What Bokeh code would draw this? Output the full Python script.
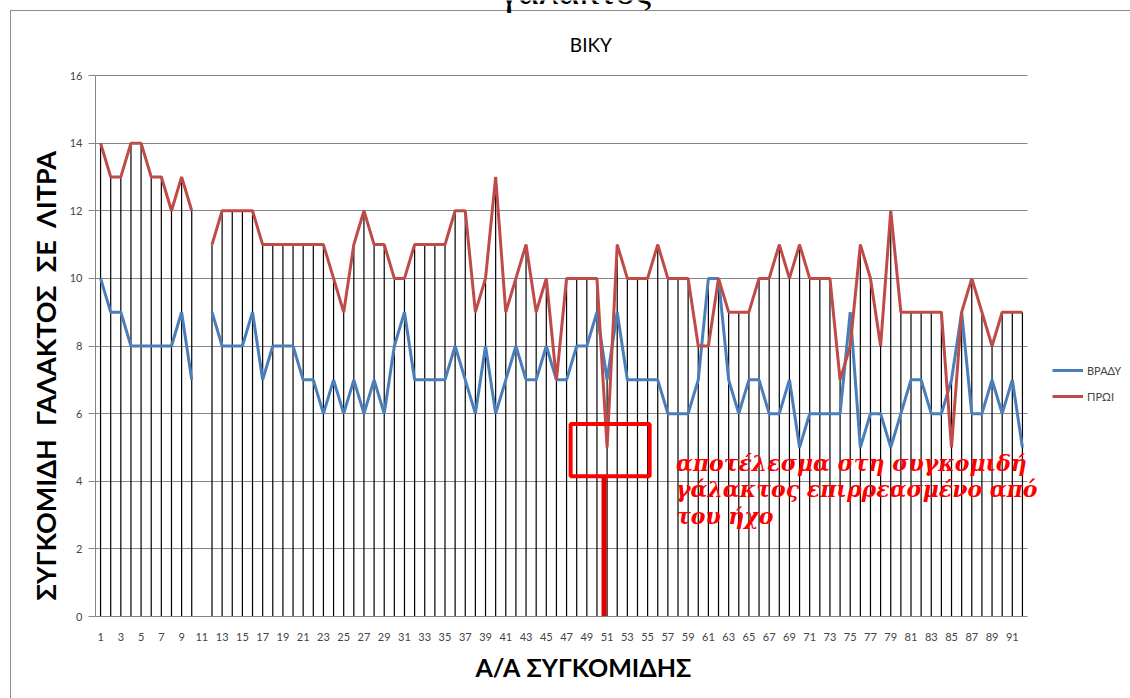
import numpy as np
from bokeh.plotting import figure
from bokeh.models import (ColumnDataSource, Label, Legend, LegendItem,
                          FixedTicker, Title)
from bokeh.embed import file_html
from bokeh.resources import INLINE

nan = float("nan")

# ---- data -------------------------------------------------------------
collections = list(range(1, 93))
evening = [10, 9, 9, 8, 8, 8, 8, 8, 9, 7, nan, 9, 8, 8, 8, 9, 7, 8, 8, 8,
           7, 7, 6, 7, 6, 7, 6, 7, 6, 8, 9, 7, 7, 7, 7, 8, 7, 6, 8, 6,
           7, 8, 7, 7, 8, 7, 7, 8, 8, 9, 7, 9, 7, 7, 7, 7, 6, 6, 6, 7,
           10, 10, 7, 6, 7, 7, 6, 6, 7, 5, 6, 6, 6, 6, 9, 5, 6, 6, 5, 6,
           7, 7, 6, 6, 7, 9, 6, 6, 7, 6, 7, 5]
morning = [14, 13, 13, 14, 14, 13, 13, 12, 13, 12, nan, 11, 12, 12, 12, 12, 11, 11, 11, 11,
           11, 11, 11, 10, 9, 11, 12, 11, 11, 10, 10, 11, 11, 11, 11, 12, 12, 9, 10, 13,
           9, 10, 11, 9, 10, 7, 10, 10, 10, 10, 5, 11, 10, 10, 10, 11, 10, 10, 10, 8,
           8, 10, 9, 9, 9, 10, 10, 11, 10, 11, 10, 10, 10, 7, 8, 11, 10, 8, 12, 9,
           9, 9, 9, 9, 5, 9, 10, 9, 8, 9, 9, 9]
y_ticks = [0, 2, 4, 6, 8, 10, 12, 14, 16]
x_tick_labels = list(range(1, 92, 2))
series_names = ["ΒΡΑΔΥ", "ΠΡΩΙ"]

BLUE = "#4A7EBB"
RED = "#BE4B48"
GRID = "#868686"
FONT = "Lato"

# plot-area geometry (pixels): the value axis spans 0..16 over 541 px and the
# 92 categories over 932 px; the frame is extended to the top/right page edge
# so that the in-chart texts and the legend are not clipped.
W, H = 1130, 698
LEFT, BOTTOM = 95, 82
PLOT_W, PLOT_H = 932, 541
n_cat = len(collections)
y_max = max(y_ticks)
x_end = 0.5 + n_cat * (W - LEFT) / PLOT_W
y_end = y_max * (H - BOTTOM) / PLOT_H

p = figure(width=W, height=H, x_range=(0.5, x_end), y_range=(0, y_end),
           output_backend="svg", toolbar_location=None,
           min_border_left=LEFT, min_border_right=0,
           min_border_top=0, min_border_bottom=BOTTOM)
p.outline_line_color = None
p.background_fill_color = None
p.border_fill_color = None
p.styles = {"box-shadow": "inset 10px 10px 0 0 #ffffff, inset 11px 11px 0 0 #8c8c8c"}

p.xgrid.visible = False
p.ygrid.ticker = FixedTicker(ticks=y_ticks)
p.ygrid.cross_bounds = (0.5, n_cat + 0.5)
p.ygrid.grid_line_color = GRID
p.ygrid.grid_line_width = 1

p.yaxis.ticker = FixedTicker(ticks=y_ticks)
p.yaxis.bounds = (0, y_max)
p.yaxis.axis_line_color = GRID
p.yaxis.major_tick_line_color = GRID
p.yaxis.major_tick_out = 7
p.yaxis.major_tick_in = 0
p.yaxis.minor_tick_line_color = None
p.yaxis.major_label_standoff = 6
p.yaxis.major_label_text_font = FONT
p.yaxis.major_label_text_font_size = "11px"
p.yaxis.major_label_text_color = "#444444"

p.xaxis.ticker = FixedTicker(ticks=x_tick_labels)
p.xaxis.bounds = (0.5, n_cat + 0.5)
p.xaxis.axis_line_color = GRID
p.xaxis.major_tick_line_color = None
p.xaxis.major_tick_out = 0
p.xaxis.major_tick_in = 0
p.xaxis.minor_tick_line_color = None
p.xaxis.major_label_standoff = 16
p.xaxis.major_label_text_font = FONT
p.xaxis.major_label_text_font_size = "11px"
p.xaxis.major_label_text_color = "#444444"

# axis titles as side titles
p.add_layout(Title(text="Α/Α ΣΥΓΚΟΜΙΔΗΣ", align="left", offset=380,
                   standoff=12, text_font=FONT, text_font_size="25px",
                   text_font_style="bold", text_color="#000000"), "below")
p.add_layout(Title(text="ΣΥΓΚΟΜΙΔΗ \u00a0ΓΑΛΑΚΤΟΣ \u00a0ΣΕ \u00a0ΛΙΤΡΑ",
                   align="left", offset=16, standoff=10, text_font=FONT,
                   text_font_size="27px", text_font_style="bold",
                   text_color="#000000"), "left")

# ---- drop lines -------------------------------------------------------
ev = np.array(evening, dtype=float)
mo = np.array(morning, dtype=float)
tops = np.fmax(ev, mo)
keep = ~np.isnan(tops)
drop_src = ColumnDataSource(dict(x=np.array(collections)[keep], top=tops[keep],
                                 base=np.zeros(keep.sum())))
p.segment(x0="x", y0="base", x1="x", y1="top", source=drop_src,
          line_color="black", line_width=1.2)

# ---- series -----------------------------------------------------------
src = ColumnDataSource(dict(x=collections, evening=evening, morning=morning))
r_ev = p.line("x", "evening", source=src, line_color=BLUE, line_width=3)
r_mo = p.line("x", "morning", source=src, line_color=RED, line_width=3)

legend = Legend(items=[LegendItem(label=series_names[0], renderers=[r_ev]),
                       LegendItem(label=series_names[1], renderers=[r_mo])],
                location=(957, 210), orientation="vertical",
                border_line_color=None, background_fill_alpha=0,
                padding=0, margin=0, spacing=6,
                glyph_width=31, glyph_height=20, label_height=20,
                label_standoff=4, label_text_font=FONT,
                label_text_font_size="11px", label_text_color="#444444")
p.add_layout(legend, "center")

# ---- annotation (red box + pointer) -----------------------------------
p.quad(left=[47.4], right=[55.2], bottom=[4.15], top=[5.69],
       fill_color=None, line_color="#FF0000", line_width=4)
p.segment(x0=[50.7], y0=[0], x1=[50.7], y1=[4.15],
          line_color="#E00000", line_width=5)

note_lines = ["αποτέλεσμα στη συγκομιδή", "γάλακτος επιρρεασμένο από", "του ήχο"]
for txt, yy in zip(note_lines, [4.55, 3.76, 2.96]):
    p.add_layout(Label(x=57.8, y=yy, text=txt, text_color="#FF0000",
                       text_font="DejaVu Serif", text_font_style="bold italic",
                       text_font_size="22px", text_baseline="middle",
                       text_align="left"))

# ---- chart title and the cut-off heading above the chart ---------------
p.add_layout(Label(x=49.4, y=16.92, text="ΒΙΚΥ", text_font=FONT,
                   text_font_size="19px", text_color="#000000",
                   text_align="center", text_baseline="middle"))
p.add_layout(Label(x=47.9, y=18.52, text="γάλακτος",
                   text_font="Liberation Serif", text_font_size="40px",
                   text_color="#000000", text_align="center",
                   text_baseline="alphabetic"))

open("out.html", "w").write(file_html(p, INLINE))
